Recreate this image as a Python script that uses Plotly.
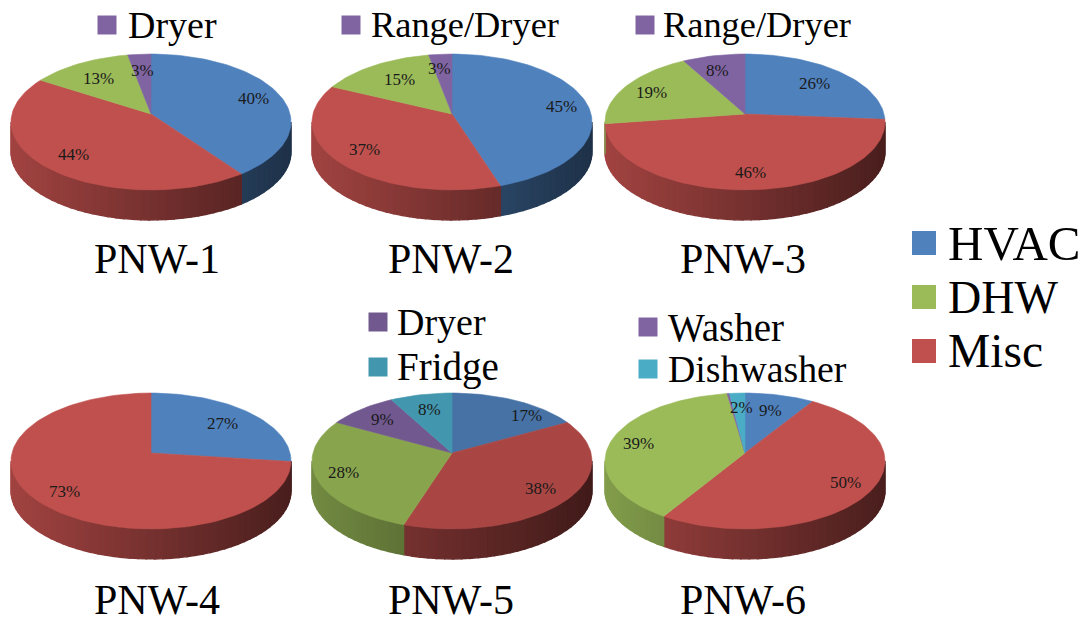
import math
import plotly.graph_objects as go

# ---- data (clockwise from 12 o'clock) ----
pnw1_cats = ["HVAC", "Misc", "DHW", "Dryer"]
pnw1_vals = [40, 44, 13, 3]
pnw2_cats = ["HVAC", "Misc", "DHW", "Range/Dryer"]
pnw2_vals = [45, 37, 15, 3]
pnw3_cats = ["HVAC", "Misc", "DHW", "Range/Dryer"]
pnw3_vals = [26, 46, 19, 8]
pnw4_cats = ["HVAC", "Misc"]
pnw4_vals = [27, 73]
pnw5_cats = ["HVAC", "Misc", "DHW", "Dryer", "Fridge"]
pnw5_vals = [17, 38, 28, 9, 8]
pnw6_cats = ["HVAC", "Misc", "DHW", "Washer", "Dishwasher"]
pnw6_vals = [9, 50, 39, 0.3, 2]
pie_titles = ["PNW-1", "PNW-2", "PNW-3", "PNW-4", "PNW-5", "PNW-6"]
main_legend = ["HVAC", "DHW", "Misc"]

COLORS = {"HVAC": (79, 129, 189), "Misc": (192, 80, 77), "DHW": (155, 187, 89),
          "Dryer": (128, 100, 162), "Range/Dryer": (128, 100, 162), "Washer": (128, 100, 162),
          "Fridge": (75, 172, 198), "Dishwasher": (75, 172, 198)}

SERIF = "Liberation Serif"
A, K, B, P, DEPTH = 140, 139, 67, 0.1176, 30
EDGE = math.asin(P)

pies = [
    dict(cats=pnw1_cats, vals=pnw1_vals, cx=151, cy=114, tone=1.0, title_x=157, title_y=259,
         nudge=[(0, 1), (4, -1), (5, 6), (1, 5)]),
    dict(cats=pnw2_cats, vals=pnw2_vals, cx=452, cy=114, tone=1.0, title_x=451, title_y=259,
         nudge=[(1, 1), (1, -2), (11, 5), (-3, 3)]),
    dict(cats=pnw3_cats, vals=pnw3_vals, cx=745, cy=114, tone=1.0, title_x=743, title_y=259,
         nudge=[(-7, 4), (2, -1), (2, 1), (-2, 4)]),
    dict(cats=pnw4_cats, vals=pnw4_vals, cx=151, cy=453, tone=1.0, title_x=157, title_y=600,
         nudge=[(-7, 4), (2, 1)]),
    dict(cats=pnw5_cats, vals=pnw5_vals, cx=452, cy=453, tone=0.88, title_x=451, title_y=600,
         nudge=[(22, 5), (-3, -1), (-1, -1), (4, 2), (3, 4)]),
    dict(cats=pnw6_cats, vals=pnw6_vals, cx=745, cy=453, tone=1.0, title_x=743, title_y=600,
         nudge=[(-3, 5), (1, 0), (0, 1), (0, 0), (3, 3)]),
]


def project(p, theta, r=1.0):
    """Perspective view of a point of the pie disc; theta clockwise from the top."""
    u, v = r * math.sin(theta), -r * math.cos(theta)
    d = 1 - P * v
    return p["cx"] + K * u / d, p["cy"] + B * v / d


def rgb(c, f=1.0):
    return "rgb(%d,%d,%d)" % tuple(max(0, min(255, round(x * f))) for x in c)


fig = go.Figure()


def poly(xs, ys, color, width=0.6):
    fig.add_trace(go.Scatter(x=xs, y=ys, mode="lines", fill="toself", fillcolor=color,
                             line=dict(color=color, width=width), hoverinfo="skip", showlegend=False))


for idx, p in enumerate(pies):
    total = sum(p["vals"])
    start = 0.0
    spans = []
    for c, v in zip(p["cats"], p["vals"]):
        spans.append((c, v, start, start + 2 * math.pi * v / total))
        start = spans[-1][3]
    # side wall: drawn from the visible silhouette, shaded left to right
    for c, v, a0, a1 in spans:
        lo, hi = max(a0, math.pi / 2 + EDGE), min(a1, 3 * math.pi / 2 - EDGE)
        if hi <= lo:
            continue
        n = max(1, int((hi - lo) / math.radians(3)))
        for i in range(n):
            t0, t1 = lo + (hi - lo) * i / n, lo + (hi - lo) * (i + 1) / n
            x0, y0 = project(p, t0)
            x1, y1 = project(p, t1)
            t = ((x0 + x1) / 2 - (p["cx"] - A)) / (2 * A)
            f = (0.84 - 0.46 * t) * p["tone"]
            poly([x0, x1, x1, x0, x0], [y0, y1, y1 + DEPTH, y0 + DEPTH, y0], rgb(COLORS[c], f), 1.4)
    # top face
    for c, v, a0, a1 in spans:
        n = max(2, int((a1 - a0) / math.radians(2)))
        pts = [project(p, a0 + (a1 - a0) * i / n) for i in range(n + 1)]
        xs = [p["cx"]] + [q[0] for q in pts] + [p["cx"]]
        ys = [p["cy"]] + [q[1] for q in pts] + [p["cy"]]
        poly(xs, ys, rgb(COLORS[c], p["tone"]))
    # labels
    for (c, v, a0, a1), (dx, dy) in zip(spans, p["nudge"]):
        if v < 1:
            continue
        x, y = project(p, (a0 + a1) / 2, 0.8)
        fig.add_annotation(x=x + dx, y=y + dy, text="%d%%" % round(v), showarrow=False,
                           font=dict(family=SERIF, size=17, color="#1a1a1a"))
    fig.add_annotation(x=p["title_x"], y=p["title_y"], text=pie_titles[idx],
                       showarrow=False, font=dict(family=SERIF, size=42, color="black"))


def legend_item(name, sx, tx, y, size, box, tone=1.0):
    fig.add_trace(go.Scatter(x=[sx], y=[y], mode="markers", hoverinfo="skip", showlegend=False,
                             marker=dict(symbol="square", size=box, color=rgb(COLORS[name], tone), line=dict(width=0))))
    fig.add_annotation(x=tx, y=y, text=name, showarrow=False, xanchor="left",
                       font=dict(family=SERIF, size=size, color="black"))


legend_item("Dryer", 107, 126, 25, 38, 19)
legend_item("Range/Dryer", 351, 369, 25, 36.4, 19)
legend_item("Range/Dryer", 645, 661, 25, 36.4, 19)
legend_item("Dryer", 378, 395, 322, 38, 19, 0.88)
legend_item("Fridge", 378, 395, 367, 39, 19, 0.88)
legend_item("Washer", 648, 666, 327, 39, 19)
legend_item("Dishwasher", 648, 666, 369, 37.8, 19)
for name, y, fs in zip(main_legend, [243, 297, 351], [49, 46, 47.5]):
    legend_item(name, 924, 946, y, fs, 24)

fig.update_layout(width=1089, height=624, margin=dict(l=0, r=0, t=0, b=0),
                  paper_bgcolor="white", plot_bgcolor="white", showlegend=False)
fig.update_xaxes(range=[0, 1089], visible=False, fixedrange=True)
fig.update_yaxes(range=[624, 0], visible=False, fixedrange=True)
fig.write_html("out.html", config={"displayModeBar": False},
               post_script="document.body.style.margin='0';document.body.style.overflow='hidden';")
